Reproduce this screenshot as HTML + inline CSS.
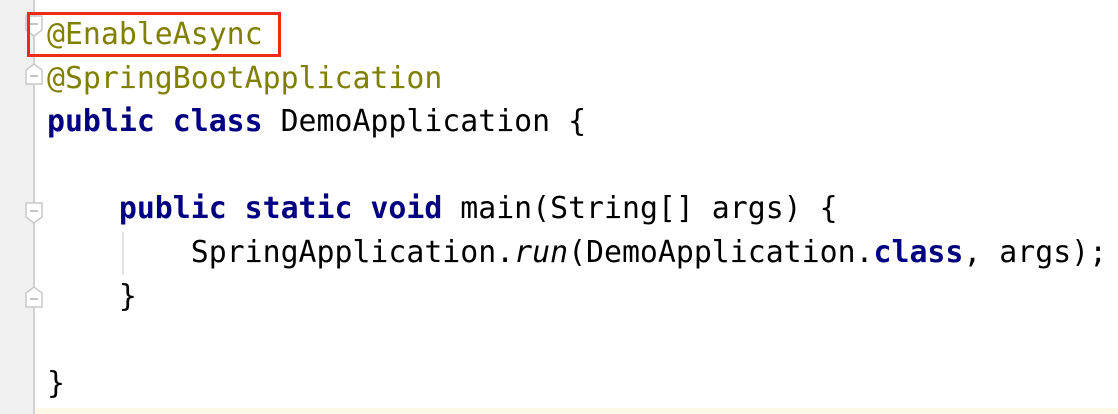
<!DOCTYPE html>
<html><head><meta charset="utf-8"><style>
html,body{margin:0;padding:0;}
body{width:1118px;height:414px;background:#fff;position:relative;overflow:hidden;}
.gut{position:absolute;left:0;top:0;width:33px;height:414px;background:#f0f0f0;}
.gl{position:absolute;left:33px;top:0;width:2px;height:414px;background:#d2d2d2;}
.yel{position:absolute;left:35px;top:408px;width:1083px;height:6px;background:#fdf9e6;}
pre{position:absolute;left:47px;top:13px;margin:0;font-family:"DejaVu Sans Mono","Liberation Mono",monospace;font-size:29.85px;line-height:43.6px;color:#000;}
.a{color:#808000}.k{color:#000080;font-weight:bold}.i{font-style:italic}
.box{position:absolute;left:27px;top:12px;width:248px;height:39px;border:3px solid #ee2a1b;}
.ig{position:absolute;left:122px;top:232px;width:2px;height:43px;background:#e2e2e2;}
svg.f{position:absolute;left:25px;}
</style></head><body>
<div class="gut"></div><div class="gl"></div><div class="yel"></div>
<svg class="f" style="top:15px" width="18" height="22"><path d="M1 1H17V15L9 21L1 15Z" fill="#fff" stroke="#c8c8c8" stroke-width="1.5"/><path d="M5 9H13" stroke="#b0b0b0" stroke-width="1.5"/></svg>
<svg class="f" style="top:63px" width="18" height="22"><path d="M1 21H17V7L9 1L1 7Z" fill="#fff" stroke="#c8c8c8" stroke-width="1.5"/><path d="M5 13H13" stroke="#b0b0b0" stroke-width="1.5"/></svg>
<svg class="f" style="top:202px" width="18" height="22"><path d="M1 1H17V15L9 21L1 15Z" fill="#fff" stroke="#c8c8c8" stroke-width="1.5"/><path d="M5 9H13" stroke="#b0b0b0" stroke-width="1.5"/></svg>
<svg class="f" style="top:286px" width="18" height="22"><path d="M1 21H17V7L9 1L1 7Z" fill="#fff" stroke="#c8c8c8" stroke-width="1.5"/><path d="M5 13H13" stroke="#b0b0b0" stroke-width="1.5"/></svg>
<div class="ig"></div>
<pre><span class="a">@EnableAsync</span>
<span class="a">@SpringBootApplication</span>
<span class="k">public class</span> DemoApplication {

    <span class="k">public static void</span> main(String[] args) {
        SpringApplication.<span class="i">run</span>(DemoApplication.<span class="k">class</span>, args);
    }

}</pre>
<div class="box"></div>
</body></html>
